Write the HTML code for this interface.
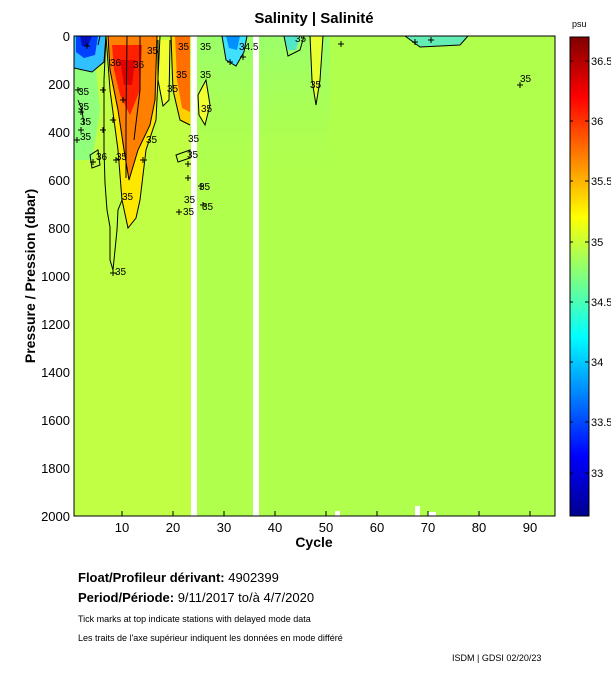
<!DOCTYPE html>
<html><head><meta charset="utf-8"><style>
body{margin:0;background:#fff;width:611px;height:675px;overflow:hidden;font-family:"Liberation Sans",sans-serif}
svg{display:block}
svg text{font-family:"Liberation Sans",sans-serif}
</style></head><body>
<svg width="611" height="675" xmlns="http://www.w3.org/2000/svg">
<defs>
<linearGradient id="jet" x1="0" y1="1" x2="0" y2="0">
<stop offset="0" stop-color="#00008f"/><stop offset="0.125" stop-color="#0000ff"/>
<stop offset="0.375" stop-color="#00ffff"/><stop offset="0.625" stop-color="#ffff00"/>
<stop offset="0.875" stop-color="#ff0000"/><stop offset="1" stop-color="#800000"/>
</linearGradient>
<linearGradient id="topfade" x1="0" y1="0" x2="0" y2="1">
<stop offset="0" stop-color="#80ff90"/><stop offset="1" stop-color="#b0ff50" stop-opacity="0"/>
</linearGradient>
<clipPath id="pc"><rect x="74" y="36" width="481" height="480"/></clipPath>
</defs>
<text x="314" y="23" font-size="15" font-weight="bold" text-anchor="middle">Salinity | Salinité</text>
<g clip-path="url(#pc)">
<rect x="74" y="36" width="481" height="480" fill="#b0ff4c"/>
<rect x="74" y="36" width="120" height="480" fill="#c0ff44"/>
<rect x="197" y="36" width="133" height="160" fill="url(#topfade)" opacity="0.45"/>
<!-- features -->
<path d="M74 50 L95 60 L100 110 L92 160 L74 160Z" fill="#70ffa0" opacity="0.6"/>
<path d="M74 36 L106 36 L104 62 L92 72 L74 68Z" fill="#30c0ff"/>
<path d="M76 36 L98 36 L95 55 L84 58 L76 52Z" fill="#0040ff"/>
<path d="M80 36 L92 36 L88 46 L82 46Z" fill="#0010c0"/>
<!-- main yellow column -->
<path d="M106 36 L160 36 L156 120 L146 150 L140 200 L136 218 L128 228 L122 200 L118 150 L110 90Z" fill="#ffe800"/>
<!-- orange -->
<path d="M108 36 L157 36 L155 100 L150 125 L138 150 L129 180 L124 150 L118 110 L110 70Z" fill="#ff8000"/>
<path d="M112 45 L142 45 L140 90 L130 115 L120 95 L114 70Z" fill="#ff2000"/>
<path d="M120 60 L135 60 L132 85 L124 85Z" fill="#e00000"/>
<!-- second column -->
<path d="M171 36 L190 36 L190 125 L180 120 L173 90Z" fill="#ffd000"/>
<path d="M175 36 L190 36 L190 112 L182 108 L177 80Z" fill="#ff7000"/>
<path d="M158 40 L170 40 L169 100 L163 106 L158 80Z" fill="#f0ff30"/>
<path d="M198 95 L206 80 L210 105 L205 125 L199 115Z" fill="#f0ff30"/>
<path d="M222 36 L247 36 L244 52 L236 66 L226 60Z" fill="#40e0ff"/>
<path d="M226 36 L240 36 L237 50 L229 48Z" fill="#0090ff"/>
<path d="M284 36 L300 36 L296 50 L288 50Z" fill="#40e0e0" opacity="0.8"/>
<path d="M310 36 L323 36 L320 80 L316 105 L312 80Z" fill="#e8ff30"/>
<path d="M405 36 L468 36 L460 45 L420 47Z" fill="#50e8d0" opacity="0.8"/>
<rect x="335" y="511" width="5" height="5" fill="#fff"/>
<rect x="415" y="506" width="5" height="10" fill="#fff"/>
<rect x="428" y="512" width="8" height="4" fill="#fff"/>
<rect x="191" y="36" width="6" height="480" fill="#fff"/>
<rect x="253" y="36" width="6" height="480" fill="#fff"/>
<!-- contours -->
<g fill="none" stroke="#000" stroke-width="1">
<path d="M106 36 L104 80 L104 150 L105 183 L107 210 L110 227 L110 260 L113 270"/>
<path d="M113 270 L115 250 L117 230 L118 210 L122 200"/>
<path d="M106 36 L110 90 L118 150 L122 200 L128 228 L136 218 L140 200 L146 150 L156 120 L160 36"/>
<path d="M108 36 L110 70 L118 110 L124 150 L129 180 L138 150 L150 125 L155 100 L157 36"/>
<path d="M127 36 L126 120 L126 178"/>
<path d="M140 36 L140 90 L134 140"/>
<path d="M171 36 L173 90 L180 120 L190 125"/>
<path d="M158 40 L158 80 L163 106 L169 100 L170 40"/>
<path d="M74 68 L92 72 L104 62 L106 36"/>
<path d="M222 36 L226 60 L236 66 L244 52 L247 36"/>
<path d="M284 36 L288 56 L300 50 L304 36"/>
<path d="M310 36 L312 80 L316 105 L320 80 L323 36"/>
<path d="M405 36 L420 47 L460 45 L468 36"/>
<path d="M198 95 L206 80 L210 105 L205 125 L199 115Z"/>
<path d="M90 155 L98 150 L100 165 L92 168Z"/>
<path d="M176 155 L190 150 L190 158 L178 162Z"/>
<path d="M78 100 L82 110 L84 125"/>
<path d="M100 36 L98 45"/>
</g>
<g font-size="10" fill="#000">
<text x="178" y="50">35</text><text x="200" y="50">35</text><text x="239" y="50">34.5</text>
<text x="295" y="42">35</text><text x="310" y="88">35</text><text x="520" y="82">35</text>
<text x="78" y="95">35</text><text x="78" y="110">35</text><text x="80" y="125">35</text>
<text x="80" y="140">35</text><text x="96" y="160">36</text><text x="116" y="160">35</text>
<text x="146" y="143">35</text><text x="122" y="200">35</text><text x="115" y="275">35</text>
<text x="133" y="68">36</text><text x="110" y="66">36</text><text x="200" y="78">35</text>
<text x="176" y="78">35</text><text x="167" y="92">35</text><text x="147" y="54">35</text>
<text x="201" y="112">35</text><text x="188" y="142">35</text><text x="187" y="158">35</text>
<text x="199" y="190">35</text><text x="183" y="215">35</text><text x="202" y="210">35</text>
<text x="184" y="203">35</text>
</g>
<g stroke="#000" stroke-width="1" fill="none">
<path d="M517 85h6M520 82v6M110 273h7M113 270v6M140 160h7M143 157v6M113 160h7M116 157v6M90 162h6M93 159v6M176 212h6M179 209v6M198 186h6M201 183v6M200 205h6M203 202v6M185 178h6M188 175v6M185 164h6M188 161v6M75 90h6M78 87v6M78 112h6M81 109v6M78 130h6M81 127v6M74 140h6M77 137v6M84 46h6M87 43v6M120 100h6M123 97v6M110 120h6M113 117v6M100 90h6M103 87v6M100 130h6M103 127v6M227 62h6M230 59v6M240 57h6M243 54v6M338 44h6M341 41v6M412 42h6M415 39v6M428 40h6M431 37v6"/>
</g>
</g>
<rect x="74" y="36" width="481" height="480" fill="none" stroke="#000"/>
<g font-size="13" text-anchor="end">
<text x="70" y="41">0</text><text x="70" y="89">200</text><text x="70" y="137">400</text>
<text x="70" y="185">600</text><text x="70" y="233">800</text><text x="70" y="281">1000</text>
<text x="70" y="329">1200</text><text x="70" y="377">1400</text><text x="70" y="425">1600</text>
<text x="70" y="473">1800</text><text x="70" y="521">2000</text>
</g>
<g stroke="#000"><path d="M122 516v-5M173 516v-5M224 516v-5M275 516v-5M326 516v-5M377 516v-5M428 516v-5M479 516v-5M530 516v-5"/></g>
<g font-size="13" text-anchor="middle">
<text x="122" y="532">10</text><text x="173" y="532">20</text><text x="224" y="532">30</text>
<text x="275" y="532">40</text><text x="326" y="532">50</text><text x="377" y="532">60</text>
<text x="428" y="532">70</text><text x="479" y="532">80</text><text x="530" y="532">90</text>
</g>
<text x="314" y="547" font-size="14" font-weight="bold" text-anchor="middle">Cycle</text>
<text transform="translate(35,276) rotate(-90)" font-size="14" font-weight="bold" text-anchor="middle">Pressure / Pression (dbar)</text>
<text x="572" y="27" font-size="9">psu</text>
<rect x="570" y="37" width="19" height="479" fill="url(#jet)" stroke="#000"/>
<g stroke="#000"><path d="M589 61h-4M589 121h-4M589 181h-4M589 242h-4M589 302h-4M589 362h-4M589 422h-4M589 473h-4M570 61h3M570 121h3M570 181h3M570 242h3M570 302h3M570 362h3M570 422h3M570 473h3"/></g>
<g font-size="11">
<text x="591" y="65">36.5</text><text x="591" y="125">36</text><text x="591" y="185">35.5</text>
<text x="591" y="246">35</text><text x="591" y="306">34.5</text><text x="591" y="366">34</text>
<text x="591" y="426">33.5</text><text x="591" y="477">33</text>
</g>
<text x="78" y="582" font-size="13"><tspan font-weight="bold">Float/Profileur dérivant:</tspan> 4902399</text>
<text x="78" y="602" font-size="13"><tspan font-weight="bold">Period/Période:</tspan> 9/11/2017  to/à  4/7/2020</text>
<text x="78" y="622" font-size="9">Tick marks at top indicate stations with delayed mode data</text>
<text x="78" y="641" font-size="9">Les traits de l'axe supérieur indiquent les données en mode différé</text>
<text x="452" y="661" font-size="9">ISDM | GDSI  02/20/23</text>
</svg>
</body></html>
